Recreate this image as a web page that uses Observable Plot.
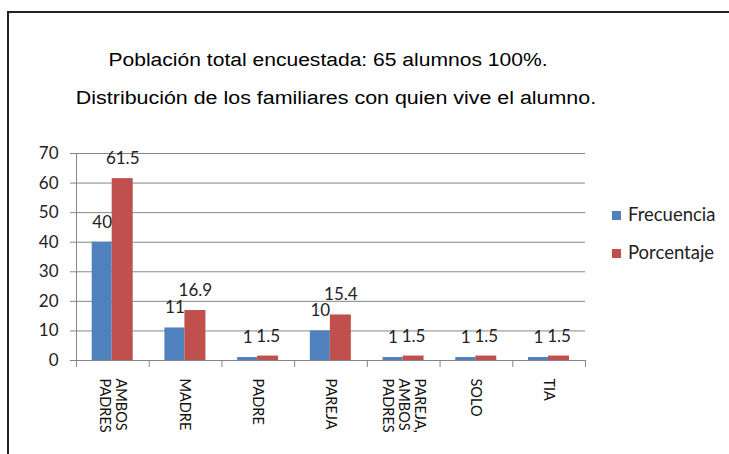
<!DOCTYPE html>
<html><head><meta charset="utf-8">
<script src="https://cdn.jsdelivr.net/npm/d3@7"></script>
<script src="https://cdn.jsdelivr.net/npm/@observablehq/plot@0.6"></script>
<style>
body{margin:0;background:#fff;}
#wrap{position:relative;width:729px;height:454px;overflow:hidden;background:#fff;}
#frame{position:absolute;left:7px;top:11px;width:760px;height:480px;border-left:2px solid #222;border-top:2px solid #222;}
.title{position:absolute;white-space:nowrap;transform:translateX(-50%) scaleX(1.17);font-family:"Liberation Sans",Arial,sans-serif;font-size:18px;color:#000;}
#chart{position:absolute;left:0;top:0;}
.leg{position:absolute;left:612px;font-family:Lato,sans-serif;font-size:18.5px;color:#222;white-space:nowrap;}
.leg span{display:inline-block;width:9px;height:9px;margin-right:7px;vertical-align:1px;}
</style></head>
<body>
<div id="wrap">
  <div id="frame"></div>
  <div class="title" style="left:328px;top:50px;">Población total encuestada: 65 alumnos 100%.</div>
  <div class="title" style="left:336px;top:88px;transform:translateX(-50%) scaleX(1.19);">Distribución de los familiares con quien vive el alumno.</div>
  <div id="chart"></div>
  <div class="leg" style="top:203px;"><span style="background:#4F81BD"></span>Frecuencia</div>
  <div class="leg" style="top:241px;"><span style="background:#C0504D"></span>Porcentaje</div>
</div>
<script>
const categories = ["AMBOS PADRES","MADRE","PADRE","PAREJA","PAREJA, AMBOS PADRES","SOLO","TIA"];
const categoryLabels = ["AMBOS\nPADRES","MADRE","PADRE","PAREJA","PAREJA,\nAMBOS\nPADRES","SOLO","TIA"];
const frecuencia = [40,11,1,10,1,1,1];
const porcentaje = [61.5,16.9,1.5,15.4,1.5,1.5,1.5];
const seriesNames = ["Frecuencia","Porcentaje"];
const seriesColors = ["#4F81BD","#C0504D"];
const yTicks = [0,10,20,30,40,50,60,70];

const W = 729, H = 454, mL = 76, mR = 144, mT = 153, mB = 94;
const bw = (W - mL - mR) / categories.length;
const plotH = H - mT - mB;

const rowsF = categories.map((c,i)=>({cat:c, v:frecuencia[i]}));
const rowsP = categories.map((c,i)=>({cat:c, v:porcentaje[i]}));
const labelRows = categories.map((c,i)=>({cat:c, label:categoryLabels[i]}));

const chart = Plot.plot({
  width: W, height: H,
  marginLeft: mL, marginRight: mR, marginTop: mT, marginBottom: mB,
  style: {fontFamily: "Lato, sans-serif", background: "transparent", overflow: "visible"},
  x: {domain: categories, padding: 0, round: false, axis: null},
  y: {domain: [0,70], axis: null},
  marks: [
    Plot.gridY(yTicks, {stroke: "#868686", strokeOpacity: 1, strokeWidth: 1}),
    Plot.axisY(yTicks, {label: null, tickSize: 6, tickPadding: 12, stroke: "#868686", fontSize: 17, fill: "#222", tickFormat: d=>String(d)}),
    Plot.ruleX([categories[0]], {dx: -bw/2, stroke: "#868686"}),
    Plot.ruleX(categories, {dx: -bw/2, insetTop: plotH, insetBottom: -7, stroke: "#868686"}),
    Plot.ruleX([categories[categories.length-1]], {dx: bw/2, insetTop: plotH, insetBottom: -7, stroke: "#868686"}),
    Plot.barY(rowsF, {x: "cat", y: "v", fill: seriesColors[0], insetLeft: 15.7, insetRight: bw - 35.7}),
    Plot.barY(rowsP, {x: "cat", y: "v", fill: seriesColors[1], insetLeft: 35.7, insetRight: bw - 56.7}),
    Plot.text(rowsF, {x: "cat", y: "v", text: d=>String(d.v), dx: 25.7 - bw/2, dy: -20, fontSize: 17, fill: "#222"}),
    Plot.text(rowsP, {x: "cat", y: "v", text: d=>String(d.v), dx: 46.2 - bw/2, dy: -20, fontSize: 17, fill: "#222"}),
    Plot.text(labelRows, {x: "cat", text: "label", frameAnchor: "bottom", rotate: 90, textAnchor: "start", lineAnchor: "middle", dy: 18, fontSize: 14.5, fill: "#111", lineHeight: 1.1})
  ]
});
document.getElementById("chart").appendChild(chart);
</script>
</body></html>
